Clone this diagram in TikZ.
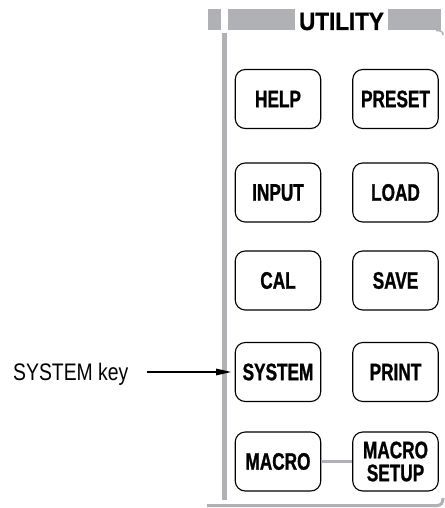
\documentclass[tikz,border=0pt]{standalone}
\usepackage{fontspec}
\usetikzlibrary{arrows.meta}
\newfontfamily\keyfont[FakeStretch=0.72, BoldFeatures={FakeBold=1}]{Liberation Sans}
\newfontfamily\headfont[FakeStretch=0.9, BoldFeatures={FakeBold=1}]{Liberation Sans}
\newfontfamily\labfont[FakeStretch=0.81]{Liberation Sans}
\definecolor{panelgray}{RGB}{175,177,181}
\tikzset{
  keybox/.style={draw=black, line width=1.1bp, rounded corners=10bp,
    minimum width=85.5bp, minimum height=59bp, inner sep=0pt, align=center,
    font=\keyfont\bfseries\fontsize{24}{23}\selectfont},
  panelbar/.style={fill=panelgray, draw=none},
  panelline/.style={draw=panelgray, line cap=butt},
  arr/.style={-{Triangle[length=15bp,width=6.5bp]}, line width=1.1bp, black}
}
\begin{document}
\begin{tikzpicture}[x=1bp,y=-1bp]
\useasboundingbox (0,0) rectangle (445,508);
% header
\fill[panelbar] (208,9) rectangle (221,30);
\fill[panelbar] (228,9) rectangle (295,30);
\fill[panelbar] (388,9) rectangle (441,30);
\node[anchor=base, inner sep=0pt, font=\headfont\bfseries\fontsize{25}{25}\selectfont] (title) at (341.5,30) {UTILITY};
\draw[panelline, line width=1.5bp] (436,30.5) .. controls (441,30.5) and (443,31.5) .. (443,35);
% left edge and bottom
\draw[panelline, line width=5bp] (224.5,33) -- (224.5,500);
\draw[panelline, line width=3bp] (207,505.5) -- (437,505.5) .. controls (441,505.5) and (443,503) .. (443,498);
% keys
\node[keybox] (help)   at (278,99)    {HELP};
\node[keybox] (preset) at (395.5,99)  {PRESET};
\node[keybox] (input)  at (278,192.5) {INPUT};
\node[keybox] (load)   at (395.5,192.5) {LOAD};
\node[keybox] (cal)    at (278,280.5) {CAL};
\node[keybox] (save)   at (395.5,280.5) {SAVE};
\node[keybox] (sys)    at (278,372)   {SYSTEM};
\node[keybox] (print)  at (395.5,372) {PRINT};
\node[keybox] (macro)  at (278,461.5) {MACRO};
\node[keybox] (msetup) at (395.5,461.5) {MACRO\\SETUP};
\draw[panelline, line width=2.5bp] (macro.east) -- (msetup.west);
% label
\node[anchor=base west, inner sep=0pt, font=\labfont\fontsize{24}{24}\selectfont] (lab) at (13,380) {SYSTEM key};
\draw[arr, shorten <=18bp, shorten >=3.5bp] (lab.east |- sys.west) -- (sys.west);
\end{tikzpicture}
\end{document}
